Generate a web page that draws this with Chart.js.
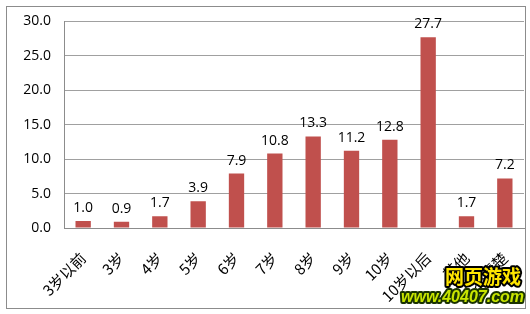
<!DOCTYPE html>
<html>
<head>
<meta charset="utf-8">
<script src="https://cdn.jsdelivr.net/npm/chart.js@4"></script>
<style>
  html, body { margin: 0; padding: 0; background: #fff; }
  #wrap { position: relative; width: 530px; height: 314px; }
</style>
</head>
<body>
<div id="wrap"><canvas id="myChart" width="530" height="314"></canvas></div>
<script>
const categories = ['3岁以前', '3岁', '4岁', '5岁', '6岁', '7岁', '8岁', '9岁', '10岁', '10岁以后', '其他', '不清楚']
const percents = [1.0, 0.9, 1.7, 3.9, 7.9, 10.8, 13.3, 11.2, 12.8, 27.7, 1.7, 7.2]
const yTicks = [0, 5, 10, 15, 20, 25, 30]

const barColor = '#c0504d'

// value labels above each bar + outer frame + watermark text
const extras = {
    id: 'extras',
    afterDatasetsDraw(chart) {
        const ctx = chart.ctx
        const meta = chart.getDatasetMeta(0)
        ctx.save()
        ctx.font = '14px "Open Sans", sans-serif'
        ctx.fillStyle = '#000'
        ctx.textAlign = 'center'
        ctx.textBaseline = 'bottom'
        meta.data.forEach((bar, i) => {
            ctx.fillText(percents[i].toFixed(1), bar.x, bar.y - 6)
        })
        ctx.restore()
    },
    afterDraw(chart) {
        const ctx = chart.ctx
        ctx.save()
        ctx.strokeStyle = '#8c8c8c'
        ctx.lineWidth = 1
        ctx.strokeRect(6.5, 6.5, 519, 302)

        ctx.lineJoin = 'round'
        ctx.font = 'bold 19px "Noto Sans CJK SC", sans-serif'
        ctx.textAlign = 'left'
        ctx.textBaseline = 'alphabetic'
        ctx.lineWidth = 4
        ctx.strokeStyle = '#000'
        ctx.fillStyle = '#ffe600'
        ctx.strokeText('网页游戏', 445, 284)
        ctx.fillText('网页游戏', 445, 284)
        ctx.font = 'bold italic 16px "Liberation Sans", sans-serif'
        ctx.strokeStyle = '#1a3300'
        ctx.fillStyle = '#c8e600'
        ctx.strokeText('www.40407.com', 401, 302)
        ctx.fillText('www.40407.com', 401, 302)
        ctx.restore()
    }
}

new Chart(document.getElementById('myChart').getContext('2d'), {
    type: 'bar',
    data: {
        labels: categories,
        datasets: [{
            data: percents,
            backgroundColor: barColor,
            borderWidth: 0,
            categoryPercentage: 1,
            barPercentage: 0.4
        }]
    },
    options: {
        responsive: false,
        animation: false,
        layout: {
            padding: { left: 0, right: 6, top: 17, bottom: 0 }
        },
        plugins: {
            legend: { display: false },
            tooltip: { enabled: false }
        },
        scales: {
            x: {
                grid: { display: false },
                border: { display: true, color: '#8c8c8c' },
                ticks: {
                    color: '#000',
                    font: { family: '"Noto Sans CJK SC", sans-serif', size: 15 },
                    maxRotation: 45,
                    minRotation: 45,
                    padding: 13,
                    autoSkip: false
                },
                afterFit(scale) {
                    scale.height = 86
                    scale.paddingLeft = 0
                    scale.paddingRight = 0
                }
            },
            y: {
                min: 0,
                max: 30,
                afterBuildTicks(scale) {
                    scale.ticks = yTicks.map(v => ({ value: v }))
                },
                grid: { color: '#a0a0a0', drawTicks: false },
                border: { display: true, color: '#8c8c8c' },
                ticks: {
                    color: '#000',
                    font: { family: '"Open Sans", sans-serif', size: 14 },
                    padding: 13,
                    callback: v => v.toFixed(1)
                },
                afterFit(scale) { scale.width = 64 }
            }
        }
    },
    plugins: [extras]
})
</script>
</body>
</html>
